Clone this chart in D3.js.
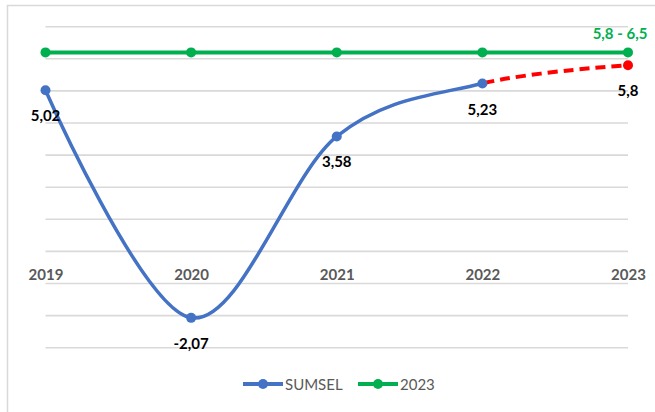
<!DOCTYPE html>
<html>
<head>
<meta charset="utf-8">
<script src="https://cdn.jsdelivr.net/npm/d3@7"></script>
<style>
  html, body { margin: 0; padding: 0; background: #fff; }
  svg { display: block; }
</style>
</head>
<body>
<svg id="chart" width="655" height="412"></svg>
<script>
// Economic growth, South Sumatra (SUMSEL), with 2023 target band
const years = ["2019", "2020", "2021", "2022", "2023"];
const sumsel = [5.02, -2.07, 3.58, 5.23, 5.8];
const sumselLabels = ["5,02", "-2,07", "3,58", "5,23", "5,8"];
const target = [6.2, 6.2, 6.2, 6.2, 6.2];
const targetLabel = "5,8 - 6,5";
const yTicks = [-3, -2, -1, 0, 1, 2, 3, 4, 5, 6, 7];
const legendNames = ["SUMSEL", "2023"];

const BLUE = "#4472C4", GREEN = "#00B050", RED = "#FF0000", GRID = "#d9d9d9", AXIS_TXT = "#595959";
const FONT = "Lato, 'Open Sans', sans-serif";

const svg = d3.select("#chart");

// outer chart frame
svg.append("rect")
  .attr("x", 7.5).attr("y", 5.5).attr("width", 700).attr("height", 450)
  .attr("fill", "#fff").attr("stroke", GRID).attr("stroke-width", 1.5);

const x = d3.scalePoint().domain(years).range([45.5, 628]);
const y = d3.scaleLinear().domain([-3, 7]).range([347.7, 26.7]);

// horizontal gridlines
svg.append("g").selectAll("line").data(yTicks).join("line")
  .attr("x1", x.range()[0]).attr("x2", x.range()[1])
  .attr("y1", d => y(d)).attr("y2", d => y(d))
  .attr("stroke", GRID).attr("stroke-width", 1.6);

// category labels sit just under the zero line
const xAxis = d3.axisBottom(x).tickSize(0).tickPadding(0);
const gx = svg.append("g").attr("transform", `translate(0,${y(0) + 29})`).call(xAxis);
gx.select(".domain").remove();
gx.selectAll("text")
  .attr("dy", 0)
  .attr("font-family", FONT).attr("font-size", 15).attr("font-weight", 700)
  .attr("fill", AXIS_TXT);

// target line
const pts = years.map((yr, i) => ({ yr, v: sumsel[i], label: sumselLabels[i] }));
const tpts = years.map((yr, i) => ({ yr, v: target[i] }));

svg.append("path").datum(tpts)
  .attr("fill", "none").attr("stroke", GREEN).attr("stroke-width", 4)
  .attr("d", d3.line().x(d => x(d.yr)).y(d => y(d.v)));
svg.append("g").selectAll("circle").data(tpts).join("circle")
  .attr("cx", d => x(d.yr)).attr("cy", d => y(d.v)).attr("r", 5)
  .attr("fill", GREEN);

// SUMSEL smoothed line: realised part solid blue, projection dashed red
const defs = svg.append("defs");
const splitX = x("2022");
defs.append("clipPath").attr("id", "clipReal")
  .append("rect").attr("x", 0).attr("y", 0).attr("width", splitX).attr("height", 412);
defs.append("clipPath").attr("id", "clipProj")
  .append("rect").attr("x", splitX).attr("y", 0).attr("width", 655 - splitX).attr("height", 412);

const smooth = d3.line().x(d => x(d.yr)).y(d => y(d.v)).curve(d3.curveCatmullRom.alpha(0));

svg.append("path").datum(pts)
  .attr("clip-path", "url(#clipProj)")
  .attr("fill", "none").attr("stroke", RED).attr("stroke-width", 4)
  .attr("stroke-dasharray", "10,6")
  .attr("d", smooth);
svg.append("path").datum(pts)
  .attr("clip-path", "url(#clipReal)")
  .attr("fill", "none").attr("stroke", BLUE).attr("stroke-width", 3.5)
  .attr("d", smooth);

svg.append("g").selectAll("circle").data(pts).join("circle")
  .attr("cx", d => x(d.yr)).attr("cy", d => y(d.v)).attr("r", 5)
  .attr("fill", d => d.yr === "2023" ? RED : BLUE);

// value labels below each point
svg.append("g").selectAll("text").data(pts).join("text")
  .attr("x", d => x(d.yr)).attr("y", d => y(d.v) + 31)
  .attr("text-anchor", "middle")
  .attr("font-family", FONT).attr("font-size", 15).attr("font-weight", 700)
  .attr("fill", "#000")
  .text(d => d.label);

// target range label
svg.append("text")
  .attr("x", x("2023") - 8).attr("y", y(target[4]) - 13)
  .attr("text-anchor", "middle")
  .attr("font-family", FONT).attr("font-size", 15).attr("font-weight", 700)
  .attr("fill", GREEN)
  .text(targetLabel);

// legend
const legend = [
  { name: legendNames[0], color: BLUE, x0: 243 },
  { name: legendNames[1], color: GREEN, x0: 358 }
];
const lg = svg.append("g").selectAll("g").data(legend).join("g")
  .attr("transform", d => `translate(${d.x0},384)`);
lg.append("line").attr("x1", 0).attr("x2", 40).attr("y1", 0).attr("y2", 0)
  .attr("stroke", d => d.color).attr("stroke-width", 4);
lg.append("circle").attr("cx", 20).attr("cy", 0).attr("r", 5).attr("fill", d => d.color);
lg.append("text").attr("x", 42).attr("y", 5.5)
  .attr("font-family", FONT).attr("font-size", 15)
  .attr("fill", AXIS_TXT)
  .text(d => d.name);
</script>
</body>
</html>
